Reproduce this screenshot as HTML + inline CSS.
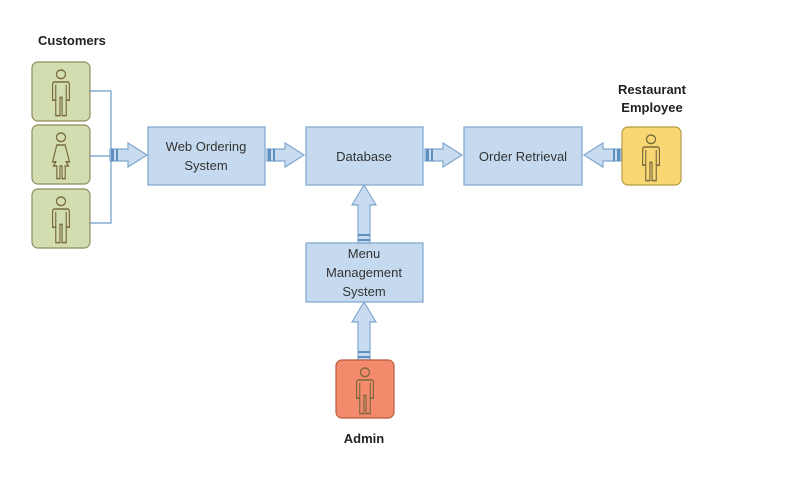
<!DOCTYPE html>
<html><head><meta charset="utf-8"><style>
html,body{margin:0;padding:0;background:#fff;}
svg{display:block;}
text{font-family:"Liberation Sans",sans-serif;}
</style></head><body>
<svg width="802" height="483" viewBox="0 0 802 483" xmlns="http://www.w3.org/2000/svg">
<defs>
  <g id="man" fill="none" stroke="#7a6a3e" stroke-width="1.1">
    <ellipse cx="0" cy="-10.5" rx="4.3" ry="3.1"/>
    <path d="M-8,8 V-3 Q-8,-5 -6,-5 H6 Q8,-5 8,-3 V8 H5 V19 H1 V6 H-1 V19 H-5 V8 Z"/>
    <path d="M-5,-3 V8 M5,-3 V8"/>
  </g>
  <g id="woman" fill="none" stroke="#7a6a3e" stroke-width="1.1">
    <ellipse cx="0" cy="-10.5" rx="4.3" ry="3.1"/>
    <path d="M-4,-5 H4 L8,7 H5 L7,10 H4 V19 H1 V10 H-1 V19 H-4 V10 H-7 L-5,7 H-8 Z"/>
  </g>
  <g id="harrow">
    <polygon points="0,-6 18,-6 18,-12 37,0 18,12 18,6 0,6" fill="#c9dcef" stroke="#7ea6cf" stroke-width="1.2"/>
    <rect x="1" y="-6" width="3" height="12" fill="#5d8fc0"/>
    <rect x="6" y="-6" width="2" height="12" fill="#5d8fc0"/>
  </g>
  <g id="varrow">
    <polygon points="-6,0 -6,-38 -12,-38 0,-58 12,-38 6,-38 6,0" fill="#c9dcef" stroke="#7ea6cf" stroke-width="1.2"/>
    <rect x="-6" y="-4" width="12" height="2" fill="#5d8fc0"/>
    <rect x="-6" y="-9" width="12" height="2" fill="#5d8fc0"/>
  </g>
</defs>

<text x="38" y="45" font-size="13" font-weight="bold" fill="#222">Customers</text>

<g stroke="#8f8a5e" stroke-width="1.2" fill="#d2deb0">
  <rect x="32" y="62" width="58" height="59" rx="6"/>
  <rect x="32" y="125" width="58" height="59" rx="6"/>
  <rect x="32" y="189" width="58" height="59" rx="6"/>
</g>
<use href="#man" transform="translate(61,89) scale(1.05,1.4)"/>
<use href="#woman" transform="translate(61,152) scale(1.05,1.4)"/>
<use href="#man" transform="translate(61,216) scale(1.05,1.4)"/>

<g stroke="#6f9bc6" stroke-width="1.2" fill="none">
  <path d="M90,91 H111 V223 H90"/>
  <path d="M90,156 H111"/>
</g>

<g fill="#c6daef" stroke="#7ea6cf" stroke-width="1.2">
  <rect x="148" y="127" width="117" height="58"/>
  <rect x="306" y="127" width="117" height="58"/>
  <rect x="464" y="127" width="118" height="58"/>
  <rect x="306" y="243" width="117" height="59"/>
</g>
<g font-size="13" fill="#333" text-anchor="middle">
  <text x="206" y="151">Web Ordering</text>
  <text x="206" y="170">System</text>
  <text x="364" y="161">Database</text>
  <text x="523" y="161">Order Retrieval</text>
  <text x="364" y="258">Menu</text>
  <text x="364" y="277">Management</text>
  <text x="364" y="296">System</text>
</g>

<use href="#harrow" x="110" y="155"/>
<use href="#harrow" x="267" y="155"/>
<use href="#harrow" x="425" y="155"/>
<use href="#harrow" transform="translate(621,155) scale(-1,1)"/>
<use href="#varrow" x="364" y="243"/>
<use href="#varrow" x="364" y="360"/>

<text x="652" y="94" font-size="13" font-weight="bold" fill="#222" text-anchor="middle">Restaurant</text>
<text x="652" y="112" font-size="13" font-weight="bold" fill="#222" text-anchor="middle">Employee</text>
<rect x="622" y="127" width="59" height="58" rx="6" fill="#f9d873" stroke="#b89a45" stroke-width="1.2"/>
<use href="#man" transform="translate(651,154) scale(1.05,1.4)"/>

<rect x="336" y="360" width="58" height="58" rx="6" fill="#f48a6c" stroke="#b85b40" stroke-width="1.2"/>
<use href="#man" transform="translate(365,387) scale(1.05,1.4)"/>
<text x="364" y="443" font-size="13" font-weight="bold" fill="#222" text-anchor="middle">Admin</text>
</svg>
</body></html>
